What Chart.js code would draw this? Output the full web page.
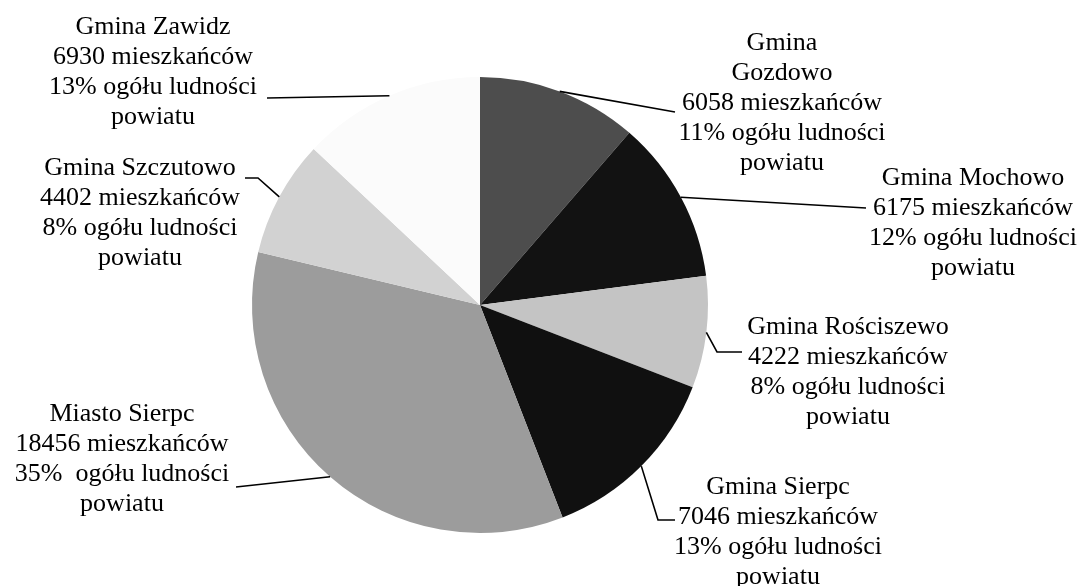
<!DOCTYPE html>
<html>
<head>
<meta charset="utf-8">
<script src="https://cdn.jsdelivr.net/npm/chart.js@4/dist/chart.umd.min.js"></script>
<style>
  html, body { margin: 0; padding: 0; background: #fff; }
  #wrap { width: 1083px; height: 586px; position: relative; }
</style>
</head>
<body>
<div id="wrap"><canvas id="myChart"></canvas></div>
<script>
  'use strict'

  // Data, clockwise from 12 o'clock
  const names = ['Gmina Gozdowo', 'Gmina Mochowo', 'Gmina Rościszewo', 'Gmina Sierpc',
    'Miasto Sierpc', 'Gmina Szczutowo', 'Gmina Zawidz']
  const residents = [6058, 6175, 4222, 7046, 18456, 4402, 6930]
  const shares = ['11%', '12%', '8%', '13%', '35% ', '8%', '13%']
  const fills = ['#4d4d4d', '#121212', '#c4c4c4', '#101010', '#9c9c9c', '#d2d2d2', '#fbfbfb']

  // label placement: text centre x, first line y, leader bend points
  const labelLayout = [
    { x: 782, y: 43, split: true, leader: [[675, 112]] },
    { x: 973, y: 178, leader: [[866, 208]] },
    { x: 848, y: 327, leader: [[717, 352], [742, 352]] },
    { x: 778, y: 487, leader: [[658, 520], [675, 520]] },
    { x: 122, y: 414, leader: [[236, 487]] },
    { x: 140, y: 168, leader: [[258, 178], [245, 178]] },
    { x: 153, y: 27, leader: [[267, 98]] }
  ]

  const labelLines = i => {
    const first = labelLayout[i].split ? names[i].split(' ') : [names[i]]
    return first.concat([
      residents[i] + ' mieszkańców',
      shares[i] + ' ogółu ludności',
      'powiatu'
    ])
  }

  const calloutPlugin = {
    id: 'callouts',
    afterDatasetsDraw (chart) {
      const c = chart.ctx
      const arcs = chart.getDatasetMeta(0).data
      c.save()
      c.strokeStyle = '#000'
      c.lineWidth = 1.6
      c.fillStyle = '#000'
      c.font = '26px "Liberation Serif", "DejaVu Serif", serif'
      c.textAlign = 'center'
      c.textBaseline = 'middle'
      arcs.forEach((arc, i) => {
        const p = arc.getProps(['x', 'y', 'startAngle', 'endAngle', 'outerRadius'], true)
        const mid = (p.startAngle + p.endAngle) / 2
        const sx = p.x + Math.cos(mid) * p.outerRadius
        const sy = p.y + Math.sin(mid) * p.outerRadius
        const lay = labelLayout[i]
        c.beginPath()
        c.moveTo(sx, sy)
        lay.leader.forEach(pt => c.lineTo(pt[0], pt[1]))
        c.stroke()
        labelLines(i).forEach((t, k) => c.fillText(t, lay.x, lay.y + k * 30))
      })
      c.restore()
    }
  }

  const ctx = document.getElementById('myChart')
  // eslint-disable-next-line no-unused-vars
  const myChart = new Chart(ctx, {
    type: 'pie',
    data: {
      labels: names,
      datasets: [{
        data: residents,
        backgroundColor: fills,
        borderWidth: 0
      }]
    },
    options: {
      responsive: true,
      maintainAspectRatio: false,
      animation: false,
      layout: {
        padding: { left: 252, right: 375, top: 77, bottom: 53 }
      },
      plugins: {
        legend: { display: false },
        tooltip: { enabled: false }
      }
    },
    plugins: [calloutPlugin]
  })
</script>
</body>
</html>
